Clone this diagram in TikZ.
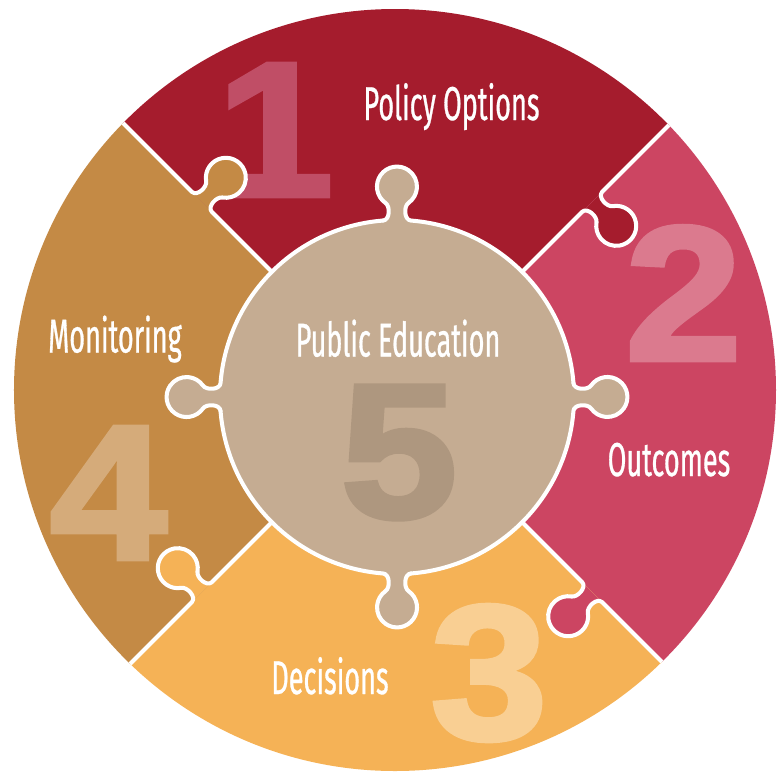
\documentclass[tikz,border=0pt]{standalone}
\usepackage{fontspec}
\usepackage{tikz}
\usetikzlibrary{calc}
\newfontfamily\labelfont[FakeStretch=0.57,FakeBold=0.6]{Fira Sans}
\newfontfamily\numfont[FakeBold=2.5,FakeStretch=1.1]{Liberation Sans}
\definecolor{pieceA}{RGB}{165,28,45}
\definecolor{pieceB}{RGB}{204,69,98}
\definecolor{pieceC}{RGB}{245,178,86}
\definecolor{pieceD}{RGB}{196,138,69}
\definecolor{centre}{RGB}{197,172,146}
\definecolor{numA}{RGB}{192,78,102}
\definecolor{numB}{RGB}{219,122,142}
\definecolor{numC}{RGB}{249,207,147}
\definecolor{numD}{RGB}{213,171,122}
\definecolor{numE}{RGB}{174,151,127}

\begin{document}
\begin{tikzpicture}[x=0.02cm,y=0.02cm,
    seam/.style={draw=white, line width=2.3pt, line cap=round, line join=round},
    label/.style={text=white, font=\labelfont\fontsize{27}{30}\selectfont, anchor=base, inner sep=0pt},
    bignum/.style={font=\numfont\bfseries\fontsize{109}{120}\selectfont, inner sep=0pt}]
      \useasboundingbox (-395,-382) rectangle (389,390);
      \coordinate (O) at (0,0);
      \coordinate (C) at (2,-7);
      \begin{scope}
      \clip (O) circle[radius=381];
      % quadrant pieces
      \fill[pieceA] (C) -- +(45:600) -- +(135:600) -- cycle;
      \fill[pieceB] (C) -- +(-45:600) -- +(45:600) -- cycle;
      \fill[pieceC] (C) -- +(-135:600) -- +(-45:600) -- cycle;
      \fill[pieceD] (C) -- +(135:600) -- +(225:600) -- cycle;
      \node[bignum, text=numA] (n1) at (-120,260) {1};
      \node[bignum, text=numB] (n2) at (288.5,97) {2};
      \node[bignum, text=numD] (n4) at (-286.5,-103) {4};
      % dividers, each knob pushes into the next piece clockwise
      \foreach \ang/\col in {135/pieceD, 45/pieceA, -45/pieceB, -135/pieceC} {
        \begin{scope}[shift={(C)}, rotate=\ang+180, shift={(-276,0)}]
          \fill[\col] (-14,0) .. controls (-7,0.5) and (-6.6,14.2) .. (-11.5,17.6)
            arc[start angle=235, end angle=-55, radius=20]
            .. controls (6.6,14.2) and (7,0.5) .. (14,0) -- cycle;
          \draw[seam] (-140,0) -- (-14,0) .. controls (-7,0.5) and (-6.6,14.2) .. (-11.5,17.6)
            arc[start angle=235, end angle=-55, radius=20]
            .. controls (6.6,14.2) and (7,0.5) .. (14,0) -- (140,0);
        \end{scope}
      }
      \end{scope}
      \node[bignum, text=numC] (n3) at (94,-283) {3};
      % centre piece
      \fill[centre] (C) circle[radius=177];
      \foreach \a in {90,0,-90,180} {
        \begin{scope}[shift={(C)}, rotate=\a-90, shift={(0,176.45)}]
          \fill[centre] (-14,0) .. controls (-7,0.5) and (-6.6,14.2) .. (-11.5,17.6)
            arc[start angle=235, end angle=-55, radius=20]
            .. controls (6.6,14.2) and (7,0.5) .. (14,0) -- (0,-30) -- cycle;
        \end{scope}
      }
      \foreach \a in {90,0,-90,180} {
        \begin{scope}[shift={(C)}, rotate=\a-90, shift={(0,176.45)}]
          \draw[seam] (-14,0) .. controls (-7,0.5) and (-6.6,14.2) .. (-11.5,17.6)
            arc[start angle=235, end angle=-55, radius=20]
            .. controls (6.6,14.2) and (7,0.5) .. (14,0)
            arc[start angle=85.47, end angle=4.53, radius=177];
        \end{scope}
      }
      \node[bignum, text=numE] (n5) at (4,-62.5) {5};
      % labels
      \node[label] (policy) at (56.5,270) {Policy Options};
      \node[label] (outcomes) at (274,-86) {Outcomes};
      \node[label] (decisions) at (-65,-304) {Decisions};
      \node[label] (monitoring) at (-280,37.5) {Monitoring};
      \node[label] (public) at (3,33.5) {Public Education};
    \end{tikzpicture}
\end{document}
